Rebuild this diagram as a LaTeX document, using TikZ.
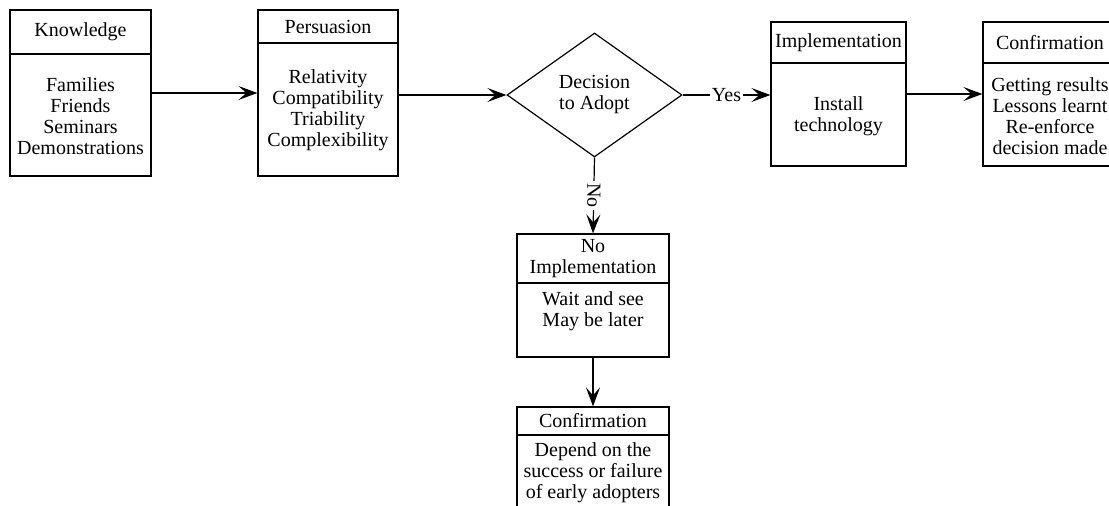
\documentclass[tikz,border=0pt]{standalone}
\usepackage{fontspec}
\setmainfont{Liberation Serif}
\usetikzlibrary{shapes.geometric}
\usetikzlibrary{arrows.meta}

\begin{document}
\begin{tikzpicture}[x=0.5pt,y=-0.5pt,line width=0.6pt,
    font=\fontsize{10}{10.5}\selectfont,
    stagebox/.style={rectangle,draw,inner sep=0pt},
    stagetext/.style={align=center,inner sep=0pt},
    flow/.style={-{Stealth[length=9.5pt,width=7pt,inset=4pt]}},
    answer/.style={fill=white,inner sep=1pt}]

            \useasboundingbox (0,0) rectangle (1109,506);

            % boxes across the top
            \path   (80.5,93)  node (know) [stagebox,minimum width=70.5pt,minimum height=83pt] {}
                    (80.5,32)  node (knowT) [stagebox,minimum width=70.5pt,minimum height=22pt] {Knowledge}
                    (80.5,116) node (knowB) [stagetext] {Families\\Friends\\Seminars\\Demonstrations};

            \path   (328,93)    node (pers) [stagebox,minimum width=70pt,minimum height=83pt] {}
                    (328,26.5)  node (persT) [stagebox,minimum width=70pt,minimum height=16.5pt] {Persuasion}
                    (328,110)   node (persB) [stagetext] {Relativity\\Compatibility\\Triability\\Complexibility};

            \path   (594.5,95) node (dec) [diamond,draw,inner sep=0pt,minimum width=87.5pt,minimum height=62pt,align=center] {Decision\\to Adopt};

            \path   (838.5,94)    node (impl) [stagebox,minimum width=67.5pt,minimum height=72pt] {}
                    (838.5,42.5)  node (implT) [stagebox,minimum width=67.5pt,minimum height=20.5pt] {Implementation}
                    (838.5,116.5) node (implB) [stagetext] {Install\\technology};

            \path   (1050,94)    node (conf) [stagebox,minimum width=67pt,minimum height=72pt] {}
                    (1050,42.5)  node (confT) [stagebox,minimum width=67pt,minimum height=20.5pt] {Confirmation}
                    (1050,116)   node (confB) [stagetext] {Getting results\\Lessons learnt\\Re-enforce\\decision made};

            % the No branch
            \path   (593,295.5) node (noimp) [stagebox,minimum width=76pt,minimum height=61.5pt] {}
                    (593,258.5) node (noimpT) [stagebox,minimum width=76pt,minimum height=24.5pt,align=center] {No\\Implementation}
                    (593,311)   node (noimpB) [stagetext] {Wait and see\\May be later};

            \path   (593,467) node (wait) [stagebox,minimum width=76pt,minimum height=60pt] {}
                    (593,421) node (waitT) [stagebox,minimum width=76pt,minimum height=14pt] {Confirmation}
                    (593,473) node (waitB) [stagetext] {Depend on the\\success or failure\\of early adopters};

            \draw[flow] (know.east) -- (pers.west);
            \draw[flow] (pers.east |- dec) -- (dec.west);
            \draw[flow] (dec.east) -- node[answer] {Yes} (impl.west |- dec);
            \draw[flow] (impl.east) -- (conf.west);
            \draw[flow] (dec.south) -- node[answer,rotate=-90] {No} (noimp.north);
            \draw[flow] (noimp.south) -- (wait.north);
        \end{tikzpicture}
\end{document}
